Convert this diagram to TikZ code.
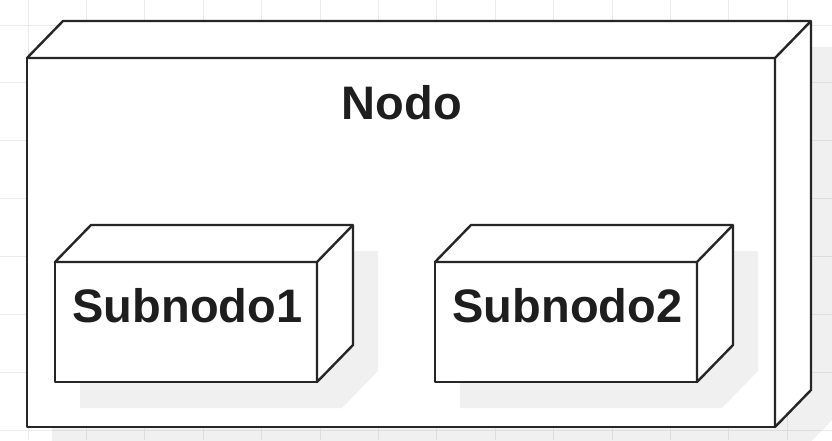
\documentclass[tikz,border=0pt]{standalone}
\usepackage{fontspec}
\setmainfont{Liberation Sans}
\definecolor{gridc}{HTML}{EBEBEB}
\definecolor{strokec}{HTML}{262626}
\definecolor{textc}{HTML}{1E1E1E}
\begin{document}
\begin{tikzpicture}[x=1pt,y=-1pt,
  front/.style={draw=strokec, line width=2.4pt, fill=white, minimum width=#1, inner sep=0pt, outer sep=0pt, line join=round},
  backface/.style={draw=strokec, line width=2.4pt, fill=white, line join=round},
  shadowface/.style={fill=black, fill opacity=0.06, draw=none},
  lbl/.style={font=\bfseries\fontsize{47}{56}\selectfont, text=textc, inner sep=0pt, anchor=base}]
\useasboundingbox (0,0) rectangle (832,440);
\fill[white] (0,0) rectangle (832,440);
% grid
\foreach \i in {0,...,14} {\draw[gridc, line width=1pt] (28+58.4*\i,0) -- (28+58.4*\i,440);}
\foreach \j in {0,...,7} {\draw[gridc, line width=1pt] (0,25+57.9*\j) -- (832,25+57.9*\j);}
% big node shadow
\fill[shadowface] (52,84) -- (88,47) -- (836,47) -- (836,416) -- (800,453) -- (52,453) -- cycle;
% big node
\node[front=748pt, minimum height=369pt] (nodo) at (401,242.5) {};
\coordinate (nodoBL) at (63,21);
\coordinate (nodoBR) at (811,21);
\coordinate (nodoBB) at (811,390);
\filldraw[backface] (nodo.north west) -- (nodoBL) -- (nodoBR) -- (nodoBB) -- (nodo.south east) -- (nodo.north east) -- cycle;
\draw[backface, fill=none] (nodo.north east) -- (nodoBR);
\node[lbl] (nodolbl) at (402,119) {Nodo};
% subnode shadows
\fill[shadowface] (80,288) -- (116,251) -- (378,251) -- (378,371) -- (342,408) -- (80,408) -- cycle;
\fill[shadowface] (460,288) -- (496,251) -- (758,251) -- (758,371) -- (722,408) -- (460,408) -- cycle;
% subnode 1
\node[front=262pt, minimum height=120pt] (s1) at (186,322) {};
\coordinate (s1BL) at (91,225);
\coordinate (s1BR) at (353,225);
\coordinate (s1BB) at (353,345);
\filldraw[backface] (s1.north west) -- (s1BL) -- (s1BR) -- (s1BB) -- (s1.south east) -- (s1.north east) -- cycle;
\draw[backface, fill=none] (s1.north east) -- (s1BR);
\node[lbl] (s1lbl) at (187.5,322) {Subnodo1};
% subnode 2
\node[front=262pt, minimum height=120pt] (s2) at (566,322) {};
\coordinate (s2BL) at (471,225);
\coordinate (s2BR) at (733,225);
\coordinate (s2BB) at (733,345);
\filldraw[backface] (s2.north west) -- (s2BL) -- (s2BR) -- (s2BB) -- (s2.south east) -- (s2.north east) -- cycle;
\draw[backface, fill=none] (s2.north east) -- (s2BR);
\node[lbl] (s2lbl) at (567.5,322) {Subnodo2};
\end{tikzpicture}
\end{document}
